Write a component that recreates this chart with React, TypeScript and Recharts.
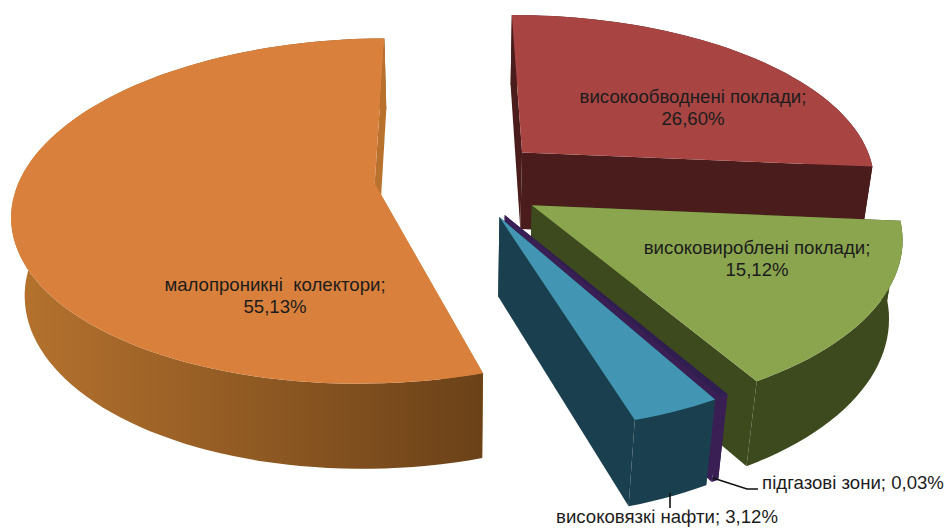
import React from 'react';
import { PieChart, Pie } from 'recharts';

const names = [
  'високообводнені поклади',
  'високовироблені поклади',
  'підгазові зони',
  'високовязкі нафти',
  'малопроникні  колектори',
];
const shares = [26.6, 15.12, 0.03, 3.12, 55.13];

const topColors = ['#a84543', '#8aa54e', '#2f1e4f', '#4296b3', '#d9813c'];
const wallColors = ['#4a1c1b', '#3d4a1e', '#3a1f55', '#1a3f4e', '#b9722d'];
const rimStart = ['#4a1c1b', '#3d4a1e', '#3a1f55', '#1a3f4e', '#b8742f'];
const rimEnd = ['#4a1c1b', '#3d4a1e', '#3a1f55', '#1a3f4e', '#6a4118'];

// how far each slice is pulled out, as part of the radius
const explode = [0.24, 0.24, 0.24, 0.24, 0.26];
// small per slice corrections, as part of the radius
const nudgeU = [0, -0.008, 0, 0.01, 0.015];
const nudgeV = [0, 0.025, 0, 0, -0.012];

// fake 3D camera
const SQUASH = 0.47;
const TILT = 0.158;
const DEPTH = 80;
const SHRINK = 0.03;

const labelSpots = [
  { x: 693, y: 103, two: true },
  { x: 757, y: 254, two: true },
  { x: 853, y: 489, two: false },
  { x: 667, y: 523, two: false },
  { x: 275, y: 291, two: true },
];
const leaders = [null, null, '713,478 747,489 758,489', '670,493 670,508', null];

const RAD = Math.PI / 180;

const Slice = (props: any) => {
  const { cx, cy, outerRadius, startAngle, endAngle, midAngle, index } = props;
  const i = index ?? names.indexOf(props.name);
  const e = explode[i];
  const mid = midAngle ?? (startAngle + endAngle) / 2;
  const ou = Math.cos(mid * RAD) * e + nudgeU[i];
  const ov = -Math.sin(mid * RAD) * e + nudgeV[i];

  const project = (u: number, v: number, h: number) => {
    const w = 1 - TILT * (v + ov) + SHRINK * h;
    const x = cx + (outerRadius * (u + ou)) / w;
    const y = cy + (outerRadius * SQUASH * (v + ov) + DEPTH * h) / w;
    return `${x.toFixed(1)},${y.toFixed(1)}`;
  };

  const arc: number[][] = [];
  const steps = Math.max(2, Math.ceil(Math.abs(startAngle - endAngle) / 2));
  for (let s = 0; s <= steps; s++) {
    const a = (startAngle + ((endAngle - startAngle) * s) / steps) * RAD;
    arc.push([Math.cos(a), -Math.sin(a)]);
  }
  const first = arc[0];
  const last = arc[arc.length - 1];
  const topArc = arc.map((p) => project(p[0], p[1], 0));
  const lowArc = arc.map((p) => project(p[0], p[1], 1)).reverse();
  const gradId = `rim-${i}`;

  const wall = (p: number[]) => (
    <polygon
      points={[project(0, 0, 0), project(p[0], p[1], 0), project(p[0], p[1], 1), project(0, 0, 1)].join(' ')}
      fill={wallColors[i]}
    />
  );
  // a cut face that looks away from the viewer goes under the rim
  const firstHidden = first[0] > 0.1;
  const lastHidden = -last[0] > 0.1;

  return (
    <g>
      <defs>
        <linearGradient id={gradId} gradientUnits="userSpaceOnUse" x1={0} y1={0} x2={490} y2={0}>
          <stop offset="0%" stopColor={rimStart[i]} />
          <stop offset="100%" stopColor={rimEnd[i]} />
        </linearGradient>
      </defs>
      {firstHidden && wall(first)}
      {lastHidden && wall(last)}
      <polygon points={[...topArc, ...lowArc].join(' ')} fill={`url(#${gradId})`} />
      {!firstHidden && wall(first)}
      {!lastHidden && wall(last)}
      <polygon points={[project(0, 0, 0), ...topArc].join(' ')} fill={topColors[i]} />
    </g>
  );
};

const SliceLabel = (props: any) => {
  const i = props.index;
  const spot = labelSpots[i];
  const pct = `${shares[i].toFixed(2).replace('.', ',')}%`;
  return (
    <g>
      {leaders[i] && <polyline points={leaders[i] as string} fill="none" stroke="#111" strokeWidth={1.6} />}
      <text x={spot.x} y={spot.y} textAnchor="middle" fontFamily="Liberation Sans" fontSize={18.6} fill="#1c1c1c" style={{ whiteSpace: 'pre' }}>
        {spot.two ? (
          <>
            <tspan x={spot.x}>{names[i]};</tspan>
            <tspan x={spot.x} dy={21.5}>{pct}</tspan>
          </>
        ) : (
          `${names[i]}; ${pct}`
        )}
      </text>
    </g>
  );
};

const data = names.map((name, i) => ({ name, value: shares[i] }));

export default function App() {
  return (
    <div style={{ position: 'absolute', left: 0, top: 0, width: 948, height: 528, background: '#fff', overflow: 'hidden' }}>
      <PieChart width={948} height={528} margin={{ top: 0, right: 0, bottom: 0, left: 0 }}>
        <Pie
          data={data}
          dataKey="value"
          nameKey="name"
          cx={461}
          cy={179}
          outerRadius={355}
          startAngle={90.4}
          endAngle={-269.6}
          minAngle={1}
          shape={Slice}
          label={SliceLabel}
          labelLine={false}
          stroke="none"
          isAnimationActive={false}
        />
      </PieChart>
    </div>
  );
}
